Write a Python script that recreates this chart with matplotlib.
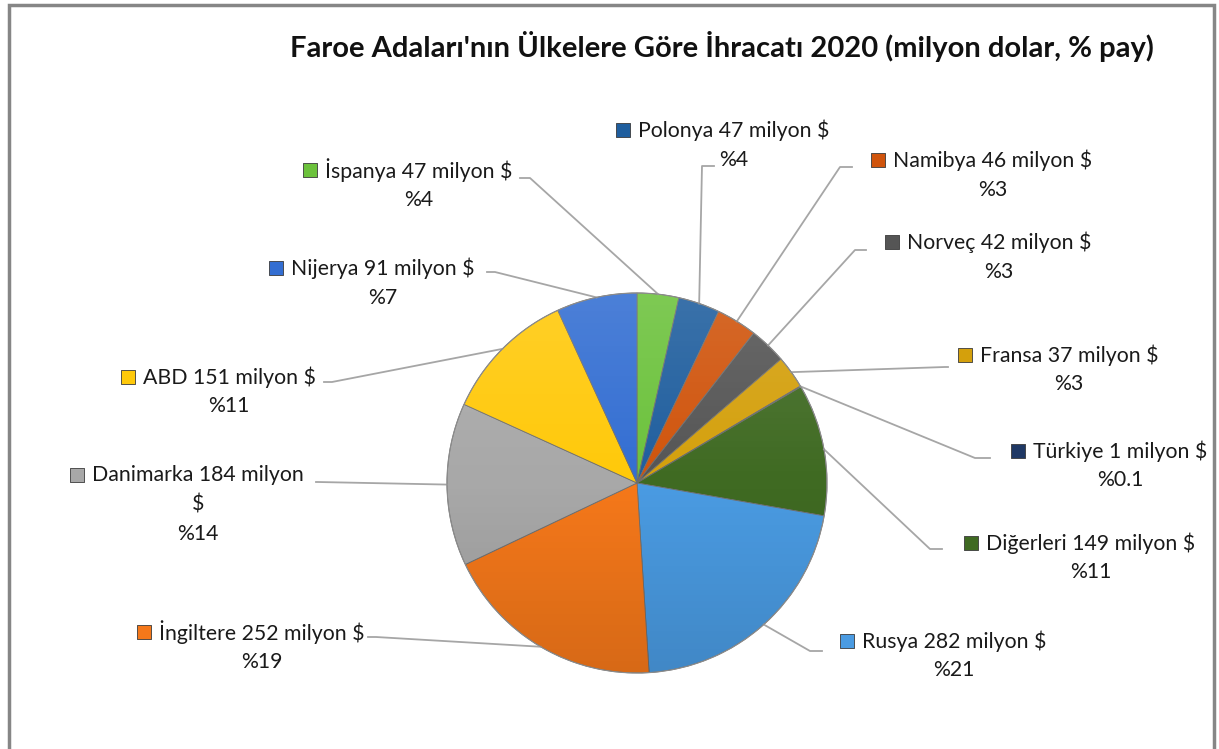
import numpy as np
import matplotlib.pyplot as plt
from matplotlib.patches import Rectangle, Circle

plt.rcParams['font.family'] = ['Lato', 'DejaVu Sans']

# data (clockwise from 12 o'clock)
countries = ["İspanya", "Polonya", "Namibya", "Norveç", "Fransa", "Türkiye",
             "Diğerleri", "Rusya", "İngiltere", "Danimarka", "ABD", "Nijerya"]
values = [47, 47, 46, 42, 37, 1, 149, 282, 252, 184, 151, 91]
pct_labels = ["4", "4", "3", "3", "3", "0.1", "11", "21", "19", "14", "11", "7"]
colors = ["#6cc23c", "#1f5e9e", "#d0540c", "#555555", "#d4a00c", "#1f3864",
          "#3f6a22", "#4a9be2", "#f5781a", "#a8a8a8", "#ffc90a", "#336ed2"]

title = "Faroe Adaları'nın Ülkelere Göre İhracatı 2020 (milyon dolar, % pay)"

W, H = 1219, 749
def Y(y):
    return H - y

# label layout: text centre x, first line y (image pixels)
lab_pos = [(419, 170), (734, 130), (993, 160), (999, 242), (1069, 355), (1120, 451),
           (1091, 543), (954, 641), (262, 632), (198, 475), (229, 377), (383, 268)]
# leader line elbow (x, y) and tip x
lead = [(530, 178, 520), (702, 166, 714), (840, 167, 852), (855, 250, 866),
        (945, 367, 948), (975, 458, 990), (930, 549, 942), (810, 651, 822),
        (376, 637, 368), (318, 482, 316), (332, 382, 324), (495, 272, 487)]

cx, cy, r = 637, 483, 190
fs = 15.3

fig = plt.figure(figsize=(W / 100, H / 100), dpi=100)
ax = fig.add_axes([0, 0, 1, 1])

wedges, _ = ax.pie(values, colors=colors, startangle=90, counterclock=False,
                   center=(cx, Y(cy)), radius=r,
                   wedgeprops=dict(edgecolor="#6e6e6e", linewidth=0.6))
ax.set_xlim(0, W)
ax.set_ylim(0, H)
ax.set_aspect('auto')
ax.axis('off')

# soft shading to imitate the bevelled look
t = np.linspace(0, 1, 200)
grad = np.zeros((200, 2, 4))
grad[:, :, :3] = np.where(t < 0.5, 1.0, 0.0)[:, None, None]
grad[:, :, 3] = (np.abs(t - 0.5) * 0.25)[:, None]
img = ax.imshow(grad, extent=[cx - r, cx + r, Y(cy) - r, Y(cy) + r], aspect='auto', zorder=3)
img.set_clip_path(Circle((cx, Y(cy)), r, transform=ax.transData))
ax.add_patch(Circle((cx, Y(cy)), r, fill=False, edgecolor="#8c8c8c", lw=0.8, zorder=4))
ax.set_xlim(0, W)
ax.set_ylim(0, H)

fig.canvas.draw()
renderer = fig.canvas.get_renderer()

for w, name, v, p, col, (lx, ly), (ex, ey, tx) in zip(wedges, countries, values, pct_labels,
                                                        colors, lab_pos, lead):
    ang = np.deg2rad((w.theta1 + w.theta2) / 2)
    sx = cx + r * np.cos(ang)
    sy = Y(cy) + r * np.sin(ang)
    ax.plot([sx, ex, tx], [sy, Y(ey), Y(ey)], color="#a6a6a6", lw=1.3, zorder=2)

    if name == "Danimarka":
        line1 = f"{name} {v} milyon"
        rest = ["$", f"%{p}"]
    else:
        line1 = f"{name} {v} milyon $"
        rest = [f"%{p}"]
    t1 = ax.text(lx, Y(ly), line1, ha='center', va='center', fontsize=fs, color="#1a1a1a")
    for i, s in enumerate(rest):
        ax.text(lx, Y(ly + 29.5 * (i + 1)), s, ha='center', va='center', fontsize=fs,
                color="#1a1a1a")
    bb = t1.get_window_extent(renderer)
    ax.scatter([bb.x0 - 15], [Y(ly)], marker='s', s=95, color=col,
               edgecolor="#3a3a3a", linewidth=0.6, zorder=5)

ax.text(722, Y(47), title, ha='center', va='center', fontsize=21, fontweight='bold',
        color="#111111")

# chart frame (bottom runs off the image)
ax.add_patch(Rectangle((9, -20), 1205, Y(5) + 20, fill=False, edgecolor="#868686", lw=2.5,
                       clip_on=False))

ax.set_xlim(0, W)
ax.set_ylim(0, H)

fig.savefig("out.png", dpi=100)
